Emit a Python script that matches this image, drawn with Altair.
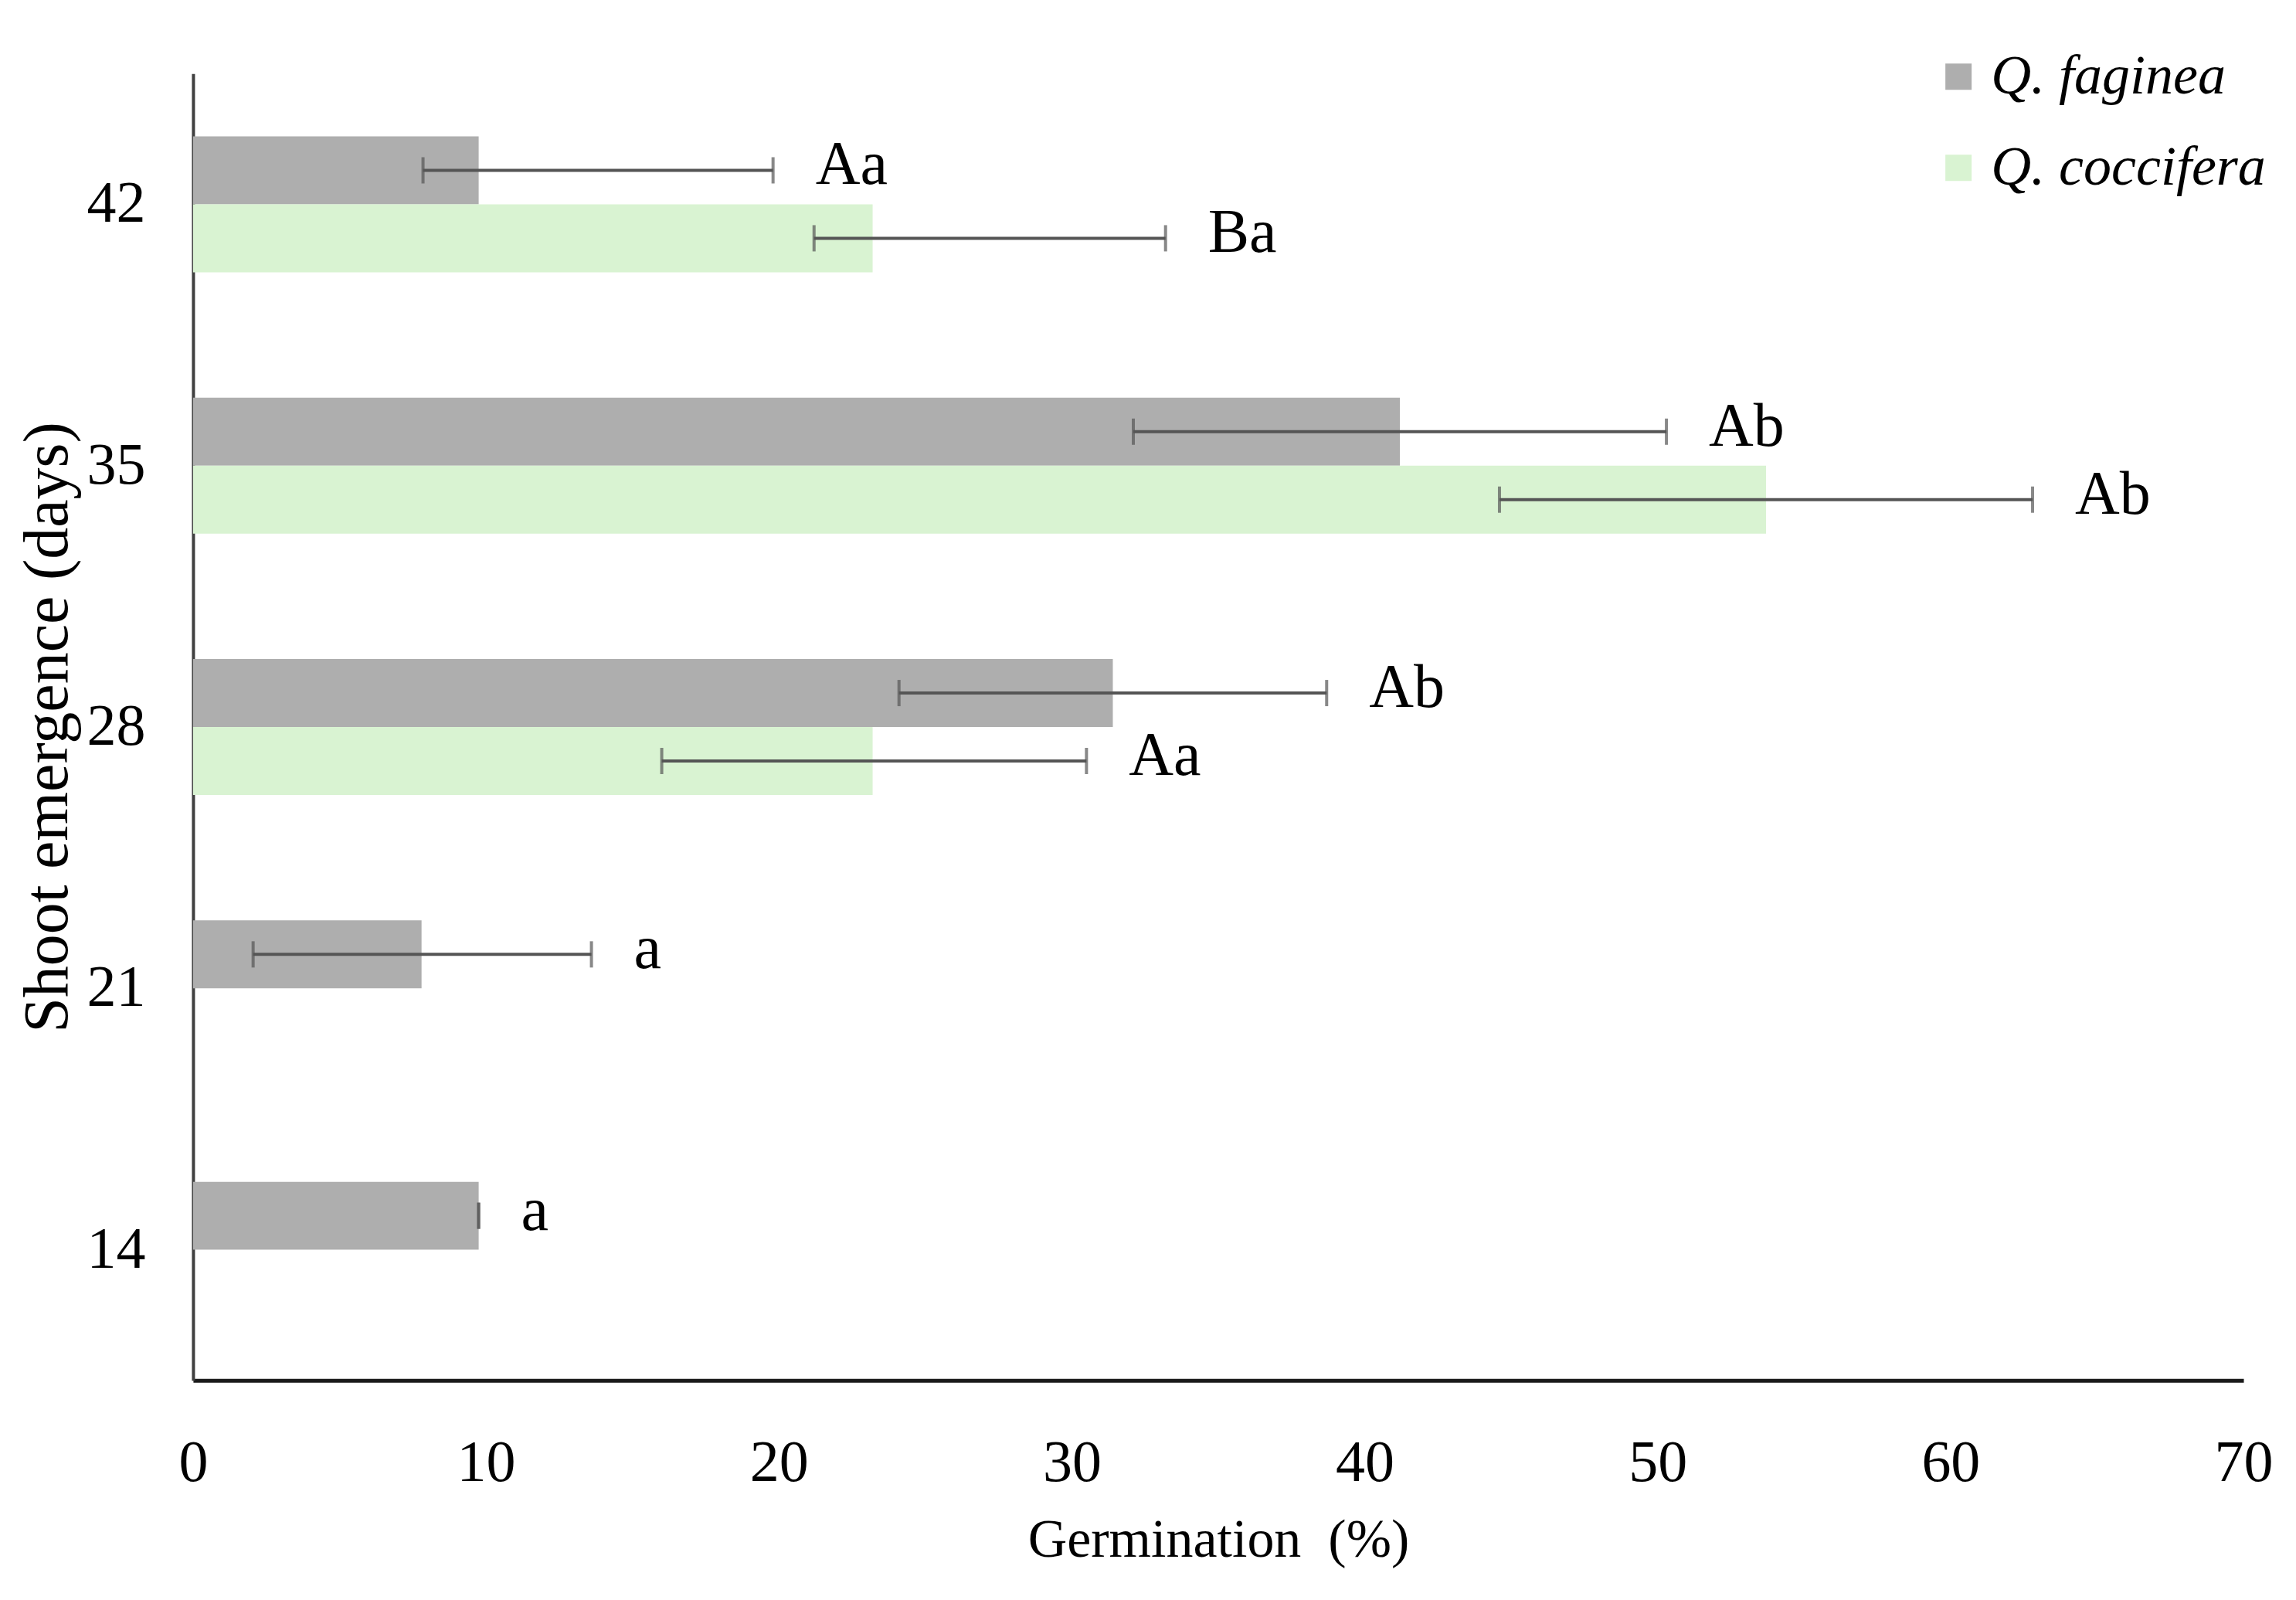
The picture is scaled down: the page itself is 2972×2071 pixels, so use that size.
import altair as alt
import pandas as pd

days = ["42", "42", "35", "35", "28", "28", "21", "14"]
species = ["Q. faginea", "Q. coccifera", "Q. faginea", "Q. coccifera",
           "Q. faginea", "Q. coccifera", "Q. faginea", "Q. faginea"]
germination = [9.75, 23.2, 41.2, 53.7, 31.4, 23.2, 7.8, 9.75]
err_lo = [7.85, 21.2, 32.1, 44.6, 24.1, 16.0, 2.05, 9.75]
err_hi = [19.8, 33.2, 50.3, 62.8, 38.7, 30.5, 13.6, 9.75]
letters = ["Aa", "Ba", "Ab", "Ab", "Ab", "Aa", "a", "a"]

day_order = ["42", "35", "28", "21", "14"]
species_order = ["Q. faginea", "Q. coccifera"]
colors = ["#AEAEAE", "#D9F3D2"]
x_ticks = [0, 10, 20, 30, 40, 50, 60, 70]

df = pd.DataFrame({
    "day": days, "species": species, "value": germination,
    "lo": err_lo, "hi": err_hi, "label": letters,
})

FONT = "Liberation Serif"

y_enc = alt.Y("day:N", sort=day_order,
              scale=alt.Scale(domain=day_order, paddingInner=0.48, paddingOuter=0.24),
              axis=alt.Axis(title="Shoot emergence (days)", titleFontSize=82,
                            titleFontWeight="normal", titleColor="#000",
                            labelFontSize=76, labelColor="#000", labelPadding=62,
                            ticks=False, domainColor="#404040", domainWidth=4,
                            titlePadding=8, labelAngle=0))
yoff_enc = alt.YOffset("species:N", sort=species_order,
                       scale=alt.Scale(domain=species_order, paddingInner=0, paddingOuter=0))

x_scale = alt.Scale(domain=[0, 70], nice=False, zero=True)

bars = alt.Chart(df).mark_bar().encode(
    x=alt.X("value:Q", scale=x_scale,
            axis=alt.Axis(title="Germination\u00a0 (%)", values=x_ticks, grid=False,
                          ticks=False, labelFontSize=76, labelColor="#000",
                          labelFlush=False,
                          labelPadding=70, titleFontSize=70, titleFontWeight="normal",
                          titleColor="#000", titlePadding=28, domainColor="#1a1a1a",
                          domainWidth=5)),
    y=y_enc,
    yOffset=yoff_enc,
    color=alt.Color("species:N", sort=species_order,
                    scale=alt.Scale(domain=species_order, range=colors),
                    legend=alt.Legend(title=None, orient="none", legendX=2250, legendY=-32,
                                      symbolType="square", symbolSize=1156,
                                      symbolStrokeWidth=0, labelFontSize=72,
                                      labelFont=FONT, labelFontStyle="italic",
                                      labelColor="#000", labelOffset=6,
                                      rowPadding=46, labelLimit=600)),
)

rules = alt.Chart(df).mark_rule(color="#555555", strokeWidth=4).encode(
    x="lo:Q", x2="hi:Q", y=alt.Y("day:N", sort=day_order), yOffset=yoff_enc,
)
cap_lo = alt.Chart(df).mark_tick(color="#555555", thickness=4, size=34, orient="vertical").encode(
    x="lo:Q", y=alt.Y("day:N", sort=day_order), yOffset=yoff_enc,
)
cap_hi = alt.Chart(df).mark_tick(color="#555555", thickness=4, size=34, orient="vertical").encode(
    x="hi:Q", y=alt.Y("day:N", sort=day_order), yOffset=yoff_enc,
)
text = alt.Chart(df).mark_text(align="left", baseline="middle", dx=55, dy=-6,
                               fontSize=80, font=FONT, color="#000").encode(
    x="hi:Q", y=alt.Y("day:N", sort=day_order), yOffset=yoff_enc, text="label:N",
)

chart = alt.layer(bars, rules, cap_lo, cap_hi, text).properties(
    width=2655, height=1692,
    autosize=alt.AutoSizeParams(type="none"),
    padding={"left": 242, "top": 87, "right": 60, "bottom": 270},
).configure(font=FONT).configure_view(stroke=None).configure_axis(
    labelFont=FONT, titleFont=FONT
)

chart.save("out.html", embed_options={"renderer": "svg", "actions": False})
